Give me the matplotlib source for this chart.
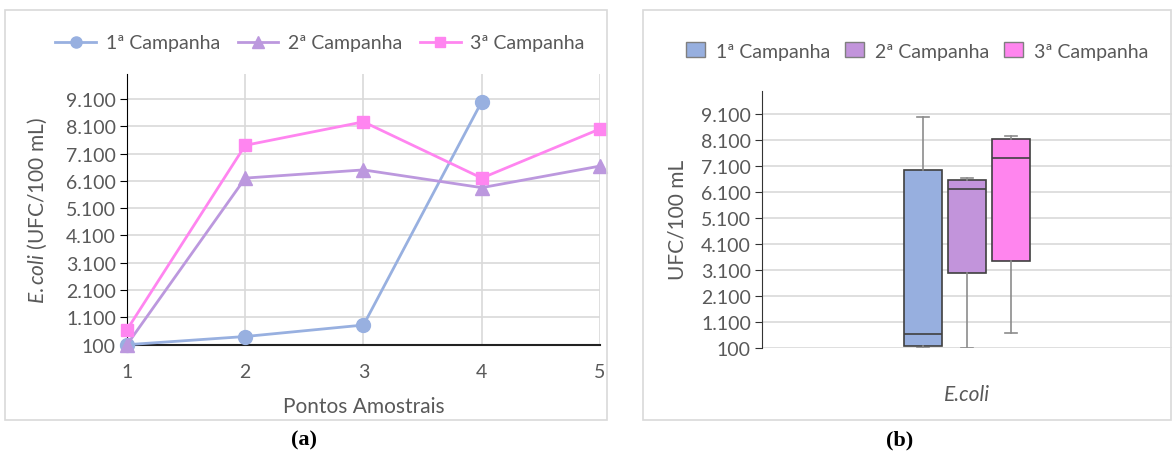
import matplotlib.pyplot as plt
from matplotlib.patches import Rectangle, Patch
import numpy as np

plt.rcParams['font.family'] = ['Lato', 'DejaVu Sans']
plt.rcParams['mathtext.fontset'] = 'custom'
plt.rcParams['mathtext.it'] = 'Lato:italic'
plt.rcParams['mathtext.rm'] = 'Lato'

# E. coli (UFC/100 mL) por ponto amostral
pontos = [1, 2, 3, 4, 5]
camp1 = [100, 400, 820, 9000]
camp2 = [100, 6200, 6500, 5850, 6640]
camp3 = [650, 7400, 8260, 6200, 8000]
nomes = ['1ª Campanha', '2ª Campanha', '3ª Campanha']
yticks = [100, 1100, 2100, 3100, 4100, 5100, 6100, 7100, 8100, 9100]

cor_linha = ['#98B0E0', '#BC98DE', '#FF85F0']
cor_caixa = ['#97AFDF', '#C294DB', '#FF85EE']
marcadores = ['o', '^', 's']
txt = '#595959'
grade = '#D9D9D9'
W, H = 1173, 452
fs = 14


def fmt(v):
    return f'{v:,}'.replace(',', '.')


fig = plt.figure(figsize=(W / 100, H / 100), dpi=100)

# molduras dos dois paineis
fig.add_artist(Rectangle((5 / W, 1 - 421 / H), 602 / W, 410 / H, transform=fig.transFigure,
                         fill=False, ec=grade, lw=1.2))
fig.add_artist(Rectangle((643 / W, 1 - 421 / H), 528 / W, 410 / H, transform=fig.transFigure,
                         fill=False, ec=grade, lw=1.2))

# (a) linhas por ponto amostral
ax = fig.add_axes([127 / W, 1 - 345.7 / H, 473 / W, 270.4 / H])
series = [camp1, camp2, camp3]
for s, c, m, n in zip(series, cor_linha, marcadores, nomes):
    ax.plot(pontos[:len(s)], s, color=c, lw=2, marker=m, ms=10 if m != 's' else 9,
            mfc=c, mec=c, label=n, zorder=3, clip_on=False)
ax.set_xlim(1, 5)
ax.set_ylim(100, 10000)
ax.set_xticks(pontos)
ax.set_yticks(yticks)
ax.set_yticklabels([fmt(v) for v in yticks])
ax.grid(True, color=grade, lw=1.2)
ax.set_axisbelow(True)
for sp in ['top', 'right']:
    ax.spines[sp].set_visible(False)
ax.spines['left'].set_color('black')
ax.spines['bottom'].set_color('#222222')
ax.spines['bottom'].set_linewidth(1.5)
ax.tick_params(axis='y', length=5, color='black', labelsize=fs, labelcolor=txt, pad=3)
ax.tick_params(axis='x', length=0, labelsize=fs, labelcolor=txt, pad=13)
ax.set_xlabel('Pontos Amostrais', fontsize=fs + 1, color=txt, labelpad=12)
ax.set_ylabel(r'$\mathit{E.coli}$ (UFC/100 mL)', fontsize=fs + 1, color=txt, labelpad=12)
fig.legend(handles=ax.get_lines(), loc='center', bbox_to_anchor=(320 / W, 1 - 44 / H),
           ncol=3, frameon=False, fontsize=fs, labelcolor=txt, handlelength=2.1,
           handletextpad=0.5, columnspacing=0.9, markerscale=0.8)

# (b) box plot por campanha (quartis exclusivos)
bx = fig.add_axes([762 / W, 1 - 348.7 / H, 410 / W, 257 / H])
stats = []
for s in series:
    a = np.array(s, dtype=float)
    q1, med, q3 = np.percentile(a, [25, 50, 75], method='weibull')
    iqr = q3 - q1
    lo = a[a >= q1 - 1.5 * iqr].min()
    hi = a[a <= q3 + 1.5 * iqr].max()
    stats.append(dict(med=med, q1=q1, q3=q3, whislo=lo, whishi=hi, fliers=[]))
pos = [1 - 0.215, 1, 1 + 0.215]
res = bx.bxp(stats, positions=pos, widths=0.185, patch_artist=True, showfliers=False,
             capwidths=0.055, manage_ticks=False,
             medianprops=dict(color='#404040', lw=1.2),
             whiskerprops=dict(color='#8C8C8C', lw=1.2),
             capprops=dict(color='#8C8C8C', lw=1.2),
             boxprops=dict(ec='#404040', lw=1.2))
for b, c in zip(res['boxes'], cor_caixa):
    b.set_facecolor(c)
    b.set_zorder(3)
for k in ['medians', 'whiskers', 'caps']:
    for l in res[k]:
        l.set_zorder(3)
bx.set_xlim(0, 2)
bx.set_ylim(100, 10000)
bx.set_xticks([])
bx.set_yticks(yticks)
bx.set_yticklabels([fmt(v) for v in yticks])
bx.yaxis.grid(True, color=grade, lw=1.2)
bx.set_axisbelow(True)
for sp in ['top', 'right', 'bottom']:
    bx.spines[sp].set_visible(False)
bx.spines['left'].set_color('#333333')
bx.tick_params(axis='y', length=5, color='#333333', labelsize=fs, labelcolor=txt, pad=3)
bx.set_ylabel('UFC/100 mL', fontsize=fs + 1, color=txt, labelpad=10)
bx.text(1, -0.18, 'E.coli', transform=bx.get_xaxis_transform(),
        fontsize=fs + 1, color=txt, style='italic', ha='center', va='center')
fig.legend(handles=[Patch(fc=c, ec='#7F7F7F', lw=1) for c in cor_caixa], labels=nomes,
           loc='center', bbox_to_anchor=(917 / W, 1 - 52 / H), ncol=3, frameon=False,
           fontsize=fs, labelcolor=txt, handlelength=1.0, handleheight=0.8,
           handletextpad=0.55, columnspacing=0.75)

# legendas dos paineis
fig.text(304 / W, 1 - 440 / H, '(a)', family='Liberation Serif', weight='bold', fontsize=16,
         ha='center', va='center')
fig.text(900 / W, 1 - 440 / H, '(b)', family='Liberation Serif', weight='bold', fontsize=16,
         ha='center', va='center')

fig.savefig('out.png', dpi=100)
